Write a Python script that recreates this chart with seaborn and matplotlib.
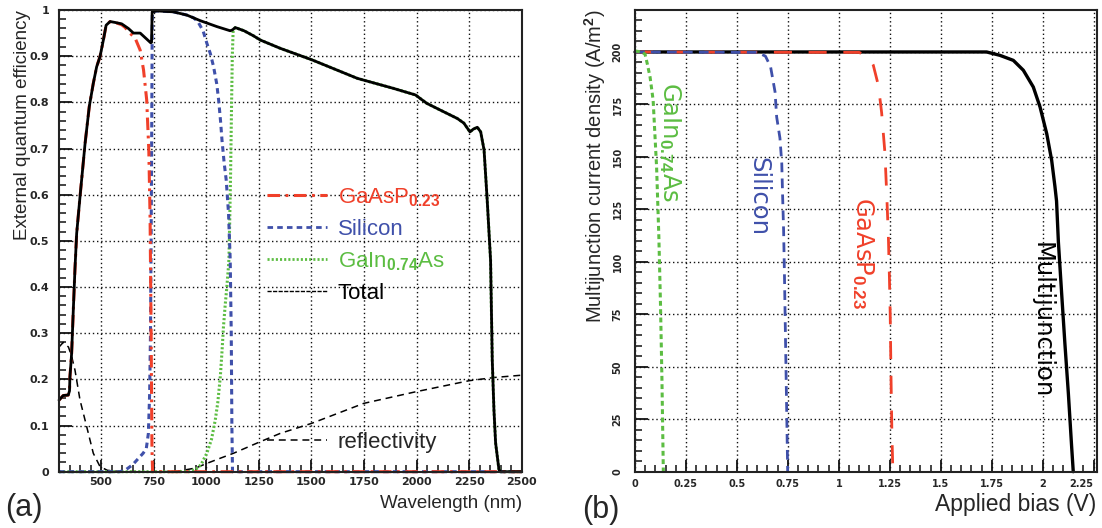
import matplotlib
matplotlib.use("Agg")
import matplotlib.pyplot as plt
import seaborn as sns
import pandas as pd
from matplotlib.lines import Line2D
from matplotlib.ticker import MultipleLocator

# ---------------- data: panel (a) ----------------
tot_wl = [300, 320, 344, 350, 352, 356, 360, 368, 376, 384, 400, 424, 444, 463, 479, 495, 511, 524, 543, 567,
          598, 630, 654, 686, 717, 736, 740, 743, 765, 844, 908, 971, 1051, 1114, 1125, 1138, 1180, 1225, 1257,
          1352, 1503, 1718, 1892, 1995, 2048, 2114, 2194, 2225, 2254, 2270, 2289, 2305, 2321, 2336, 2352, 2360,
          2368, 2376, 2392, 2400, 2500]
tot_val = [0.155, 0.165, 0.166, 0.175, 0.206, 0.23, 0.256, 0.35, 0.44, 0.516, 0.596, 0.711, 0.791, 0.841, 0.877,
           0.899, 0.935, 0.967, 0.975, 0.973, 0.970, 0.960, 0.950, 0.950, 0.937, 0.929, 0.93, 0.996, 0.998, 0.996,
           0.989, 0.977, 0.964, 0.955, 0.957, 0.962, 0.955, 0.944, 0.935, 0.917, 0.892, 0.852, 0.830, 0.816, 0.798,
           0.783, 0.765, 0.755, 0.736, 0.742, 0.746, 0.736, 0.697, 0.588, 0.458, 0.242, 0.134, 0.062, 0.004, 0.0,
           0.0]

gaasp_wl = [300, 320, 344, 350, 352, 356, 360, 368, 376, 384, 400, 424, 444, 463, 479, 495, 511, 524, 543, 567,
            598, 615, 630, 662, 686, 702, 717, 727, 733, 738, 742, 745, 2500]
gaasp_val = [0.155, 0.165, 0.166, 0.175, 0.206, 0.23, 0.256, 0.35, 0.44, 0.516, 0.596, 0.711, 0.791, 0.841, 0.877,
             0.899, 0.935, 0.967, 0.975, 0.973, 0.968, 0.962, 0.953, 0.939, 0.913, 0.870, 0.805, 0.697, 0.552, 0.30,
             0.05, 0.0, 0.0]

si_wl = [300, 590, 620, 650, 670, 700, 715, 725, 731, 735, 738, 741, 743, 744, 765, 844, 908, 940, 960, 985, 1003,
         1020, 1035, 1050, 1059, 1068, 1075, 1085, 1095, 1106, 1114, 1119, 1122, 1125, 2500]
si_val = [0.0, 0.0, 0.005, 0.015, 0.025, 0.04, 0.05, 0.083, 0.17, 0.3, 0.5, 0.75, 0.95, 0.996, 0.998, 0.996, 0.989,
          0.983, 0.975, 0.955, 0.928, 0.905, 0.877, 0.84, 0.805, 0.76, 0.718, 0.67, 0.632, 0.56, 0.46, 0.3, 0.1,
          0.0, 0.0]

gain_wl = [300, 920, 950, 975, 1003, 1025, 1043, 1055, 1067, 1075, 1082, 1090, 1098, 1105, 1108, 1112, 1116, 1120,
           1124, 1128, 1132, 1138, 1180, 1225, 1257, 1352, 1503, 1718, 1892, 1995, 2048, 2114, 2194, 2225, 2254,
           2270, 2289, 2305, 2321, 2336, 2352, 2360, 2368, 2376, 2392, 2400, 2500]
gain_val = [0.0, 0.0, 0.005, 0.015, 0.04, 0.07, 0.112, 0.15, 0.206, 0.26, 0.314, 0.36, 0.40, 0.44, 0.46, 0.55,
            0.65, 0.78, 0.9, 0.955, 0.958, 0.962, 0.955, 0.944, 0.935, 0.917, 0.892, 0.852, 0.830, 0.816, 0.798,
            0.783, 0.765, 0.755, 0.736, 0.742, 0.746, 0.736, 0.697, 0.588, 0.458, 0.242, 0.134, 0.062, 0.004, 0.0,
            0.0]

refl_wl = [300, 320, 345, 360, 376, 400, 432, 463, 495, 530, 600, 800, 876, 950, 1003, 1060, 1130, 1257, 1352,
           1503, 1749, 1995, 2249, 2368, 2500]
refl_val = [0.27, 0.28, 0.27, 0.25, 0.22, 0.155, 0.097, 0.04, 0.011, 0.003, 0.0, 0.0, 0.002, 0.008, 0.018, 0.028,
            0.04, 0.065, 0.083, 0.105, 0.148, 0.173, 0.197, 0.204, 0.209]

wl_ticks = [500, 750, 1000, 1250, 1500, 1750, 2000, 2250, 2500]
eqe_ticks = [0, 0.1, 0.2, 0.3, 0.4, 0.5, 0.6, 0.7, 0.8, 0.9, 1]
eqe_tick_labels = ["0", "0.1", "0.2", "0.3", "0.4", "0.5", "0.6", "0.7", "0.8", "0.9", "1"]

# ---------------- data: panel (b) ----------------
gain_v = [0, 0.03, 0.049, 0.06, 0.074, 0.089, 0.106, 0.117, 0.125, 0.132, 0.139]
gain_j = [200.5, 200, 199, 194.5, 188, 177, 145, 112, 80, 45, 0]

si_v = [0, 0.6, 0.64, 0.665, 0.687, 0.695, 0.711, 0.72, 0.724, 0.729, 0.733, 0.738, 0.744, 0.749]
si_j = [200, 199.8, 198, 193, 181, 169, 159, 147, 132, 115, 95, 65, 30, 0]

gaasp_v = [0, 1.1, 1.15, 1.169, 1.194, 1.21, 1.226, 1.235, 1.243, 1.248, 1.252, 1.256, 1.26, 1.265]
gaasp_j = [200, 199.8, 197, 193.7, 184, 171, 152, 132, 112, 93, 75, 45, 20, 0]

mj_v = [0, 1.725, 1.79, 1.856, 1.905, 1.954, 1.987, 2.02, 2.044, 2.06, 2.068, 2.077, 2.093, 2.109, 2.126, 2.142, 2.15]
mj_j = [200, 200, 198.4, 196, 191.3, 183.3, 173.8, 161, 148.4, 136, 129, 109.5, 85, 61, 37.3, 12, 0]

v_ticks = [0, 0.25, 0.5, 0.75, 1, 1.25, 1.5, 1.75, 2, 2.25]
v_tick_labels = ["0", "0.25", "0.5", "0.75", "1", "1.25", "1.5", "1.75", "2", "2.25"]
j_ticks = [0, 25, 50, 75, 100, 125, 150, 175, 200]

# ---------------- style ----------------
sns.set_style("ticks")
plt.rcParams["font.family"] = ["Liberation Sans", "DejaVu Sans"]
plt.rcParams["mathtext.fontset"] = "custom"
plt.rcParams["mathtext.rm"] = "Liberation Sans"
plt.rcParams["mathtext.it"] = "Liberation Sans:italic"
plt.rcParams["mathtext.bf"] = "Liberation Sans:bold"
plt.rcParams["lines.scale_dashes"] = False

RED = "#f0402a"
BLUE = "#3f50aa"
GREEN = "#5cbd42"
GRIDC = "#111111"

fig = plt.figure(figsize=(11.02, 5.28), dpi=100)
axL = fig.add_axes([59 / 1102, 1 - 471.7 / 528, (521.7 - 59) / 1102, (471.7 - 10) / 528])
axR = fig.add_axes([635 / 1102, 1 - 471.7 / 528, (1096.7 - 635) / 1102, (471.7 - 10) / 528])

tick_font = dict(family="DejaVu Sans", weight="bold")


def frame(ax):
    for s in ax.spines.values():
        s.set_linewidth(1.5)
        s.set_color("#222222")
    ax.grid(True, which="major", color=GRIDC, linestyle=(0, (1.0, 2.0)), linewidth=1.0)
    ax.set_axisbelow(True)
    ax.tick_params(which="both", direction="in", top=False, right=False, color="#111111")
    ax.tick_params(which="major", length=9, width=1.3)
    ax.tick_params(which="minor", length=5, width=1.1)


# ---------------- panel (a) ----------------
common = dict(estimator=None, sort=False, legend=False, clip_on=False)
sns.lineplot(x=refl_wl, y=refl_val, ax=axL, color="k", linewidth=1.1, linestyle=(0, (5, 3.5)), **common)
sns.lineplot(x=gain_wl, y=gain_val, ax=axL, color=GREEN, linewidth=2.2, linestyle=(0, (1.5, 1.5)), **common)
sns.lineplot(x=si_wl, y=si_val, ax=axL, color=BLUE, linewidth=2.2, linestyle=(0, (4, 3)), **common)
sns.lineplot(x=gaasp_wl, y=gaasp_val, ax=axL, color=RED, linewidth=2.2, linestyle=(0, (9, 4, 2, 4)), **common)
sns.lineplot(x=tot_wl, y=tot_val, ax=axL, color="k", linewidth=2.0, **common)

axL.set_xlim(300, 2500)
axL.set_ylim(0, 1)
axL.set_xticks(wl_ticks, labels=[str(t) for t in wl_ticks], fontsize=8, **tick_font)
axL.set_yticks(eqe_ticks, labels=eqe_tick_labels, fontsize=8, **tick_font)
axL.xaxis.set_minor_locator(MultipleLocator(50))
axL.yaxis.set_minor_locator(MultipleLocator(0.02))
frame(axL)
axL.tick_params(axis="x", which="major", pad=4)
axL.tick_params(axis="y", which="major", pad=7)
axL.set_xlabel("Wavelength (nm)", fontsize=13.5, loc="right")
axL.xaxis.set_label_coords(1.0, -0.05)
axL.set_ylabel("External quantum efficiency", fontsize=13.5, loc="top")
axL.yaxis.set_label_coords(-0.06, 1.0)

handles = [
    Line2D([], [], color=RED, linewidth=2.2, linestyle=(0, (9, 4, 2, 4))),
    Line2D([], [], color=BLUE, linewidth=2.0, linestyle=(0, (4, 3))),
    Line2D([], [], color=GREEN, linewidth=2.0, linestyle=(0, (1.5, 1.5))),
    Line2D([], [], color="k", linewidth=1.0, linestyle=(0, (3, 1))),
]
labels = [r"GaAsP$_{\mathbf{0.23}}$", "Silicon", r"GaIn$_{\mathbf{0.74}}$As", "Total"]
leg = axL.legend(handles, labels, loc="upper left", bbox_to_anchor=(0.449, 0.619), frameon=False, fontsize=16,
                 handlelength=2.7, handletextpad=0.5, labelspacing=0.46, borderpad=0, borderaxespad=0)
for t, c in zip(leg.get_texts(), [RED, BLUE, GREEN, "k"]):
    t.set_color(c)
axL.add_artist(leg)
leg2 = axL.legend([Line2D([], [], color="k", linewidth=1.1, linestyle=(0, (5, 3.5)))], ["reflectivity"],
                  loc="upper left", bbox_to_anchor=(0.449, 0.087), frameon=False, fontsize=16,
                  handlelength=2.7, handletextpad=0.5, borderpad=0, borderaxespad=0)

# ---------------- panel (b) ----------------
sns.lineplot(x=mj_v, y=mj_j, ax=axR, color="k", linewidth=2.4, **common)
sns.lineplot(x=gaasp_v, y=gaasp_j, ax=axR, color=RED, linewidth=2.0, linestyle=(0, (13, 12)), **common)
sns.lineplot(x=si_v, y=si_j, ax=axR, color=BLUE, linewidth=2.0, linestyle=(0, (7, 4.5)), **common)
sns.lineplot(x=gain_v, y=gain_j, ax=axR, color=GREEN, linewidth=2.2, linestyle=(0, (3.5, 2.5)), **common)

axR.set_xlim(0, 2.265)
axR.set_ylim(0, 220)
axR.set_xticks(v_ticks, labels=v_tick_labels, fontsize=7, **tick_font)
axR.set_yticks(j_ticks, labels=[str(t) for t in j_ticks], fontsize=7, rotation=90, va="center", **tick_font)
axR.get_xticklabels()[-1].set_horizontalalignment("right")
axR.xaxis.set_minor_locator(MultipleLocator(0.05))
axR.yaxis.set_minor_locator(MultipleLocator(5))
frame(axR)
axR.tick_params(axis="x", which="major", pad=5)
axR.tick_params(axis="y", which="major", pad=9)
axR.set_xlabel("Applied bias (V)", fontsize=16.5, loc="right")
axR.xaxis.set_label_coords(1.0, -0.046)
axR.set_ylabel("Multijunction current density (A/m$^{\\mathbf{2}}$)", fontsize=14.5, loc="top")
axR.yaxis.set_label_coords(-0.058, 1.0)

lab_font = dict(family="DejaVu Sans", fontsize=17.5, rotation=-90, ha="center", va="center")
axR.text(0.172, 157, r"GaIn$_{\mathbf{0.74}}$As", color=GREEN, **lab_font)
axR.text(0.603, 131, "Silicon", color=BLUE, **lab_font)
axR.text(1.118, 104, r"GaAsP$_{\mathbf{0.23}}$", color=RED, **lab_font)
axR.text(1.997, 72, "Multijunction", color="k", **lab_font)

fig.text(5 / 1102, 1 - 508 / 528, "(a)", fontsize=22, ha="left", va="center")
fig.text(582 / 1102, 1 - 510 / 528, "(b)", fontsize=22, ha="left", va="center")

fig.savefig("out.png", dpi=100)
